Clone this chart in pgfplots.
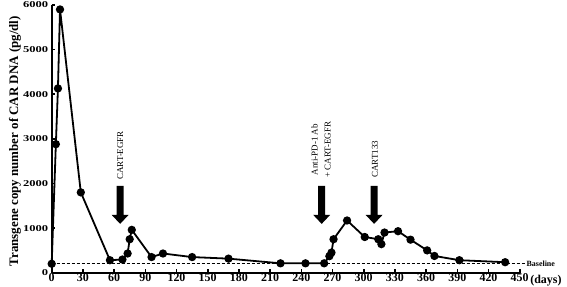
\documentclass[border=0pt]{standalone}
\usepackage{pgfplots}
\pgfplotsset{compat=1.18}
\usepackage{fontspec}
\setmainfont{Liberation Serif}
\newfontfamily\yfont[FakeStretch=1.4]{Liberation Serif}
\begin{document}
\begin{tikzpicture}
\begin{axis}[
  name=ax,
  scale only axis, width=468bp, height=267.7bp,
  xmin=0, xmax=450, ymin=0, ymax=6000,
  axis lines*=left,
  axis line style={line width=2.2bp},
  xtick={0,30,...,450}, ytick={0,1000,...,6000},
  tick align=inside, major tick length=3.5bp,
  tick style={line width=1.6bp, black},
  /pgf/number format/assume math mode=true,
  /pgf/number format/1000 sep={},
  xticklabel style={font=\bfseries\fontsize{12}{12}\selectfont, inner sep=1bp},
  yticklabel style={font=\yfont\bfseries\fontsize{9}{10}\selectfont},
  clip=false,
]
\addplot[black, line width=1bp, dash pattern=on 3bp off 2bp, forget plot] coordinates {(0,195) (455,195)};
\addplot[black, line width=1.8bp, mark=*, mark size=3.2bp, mark options={solid, fill=black}] coordinates {
(0,200) (4,2880) (6,4130) (8,5900) (28,1800) (56,280) (68,295) (73,430) (75,750) (77,960)
(96,350) (107,430) (135,350) (170,315) (220,210) (244,210) (262,210) (267,370) (269,450)
(271,750) (284,1170) (301,800) (314,750) (317,640) (320,900) (333,930) (345,740) (361,500)
(368,375) (392,280) (436,235)};
% arrows
\fill[black] (axis cs:62.4,1948) -- (axis cs:69.2,1948) -- (axis cs:69.2,1297) -- (axis cs:74,1297)
  -- (axis cs:65.8,1094) -- (axis cs:57.6,1297) -- (axis cs:62.4,1297) -- cycle;
\fill[black] (axis cs:256.2,1948) -- (axis cs:263,1948) -- (axis cs:263,1297) -- (axis cs:267.8,1297)
  -- (axis cs:259.6,1094) -- (axis cs:251.4,1297) -- (axis cs:256.2,1297) -- cycle;
\fill[black] (axis cs:306.6,1948) -- (axis cs:313.4,1948) -- (axis cs:313.4,1297) -- (axis cs:318.2,1297)
  -- (axis cs:310,1094) -- (axis cs:301.8,1297) -- (axis cs:306.6,1297) -- cycle;
\node[rotate=90, anchor=west, inner sep=0pt, font=\fontsize{9}{10}\selectfont] at (axis cs:65.8,2083) {CART-EGFR};
\node[rotate=90, anchor=west, inner sep=0pt, align=center, font=\fontsize{9}{13}\selectfont] at (axis cs:259,2128) {Anti-PD-1 Ab\\+ CART-EGFR};
\node[rotate=90, anchor=west, inner sep=0pt, font=\fontsize{9}{10}\selectfont] at (axis cs:310.9,2128) {CART133};
\node[anchor=west, inner sep=1.5bp, font=\bfseries\fontsize{8}{9}\selectfont] at (axis cs:455,195) {Baseline};
\node[anchor=west, inner sep=0pt, font=\bfseries\fontsize{12}{13}\selectfont] at (axis cs:460,-175) {(days)};
\node[rotate=90, inner sep=0pt, font=\bfseries\fontsize{13}{14}\selectfont] at (axis cs:-35.3,2948) {Transgene copy number of CAR DNA (pg/dl)};
\end{axis}
\pgfresetboundingbox
\path ([shift={(-51.7bp,-14.3bp)}]ax.south west) rectangle ([shift={(47.3bp,5bp)}]ax.north east);
\end{tikzpicture}
\end{document}
